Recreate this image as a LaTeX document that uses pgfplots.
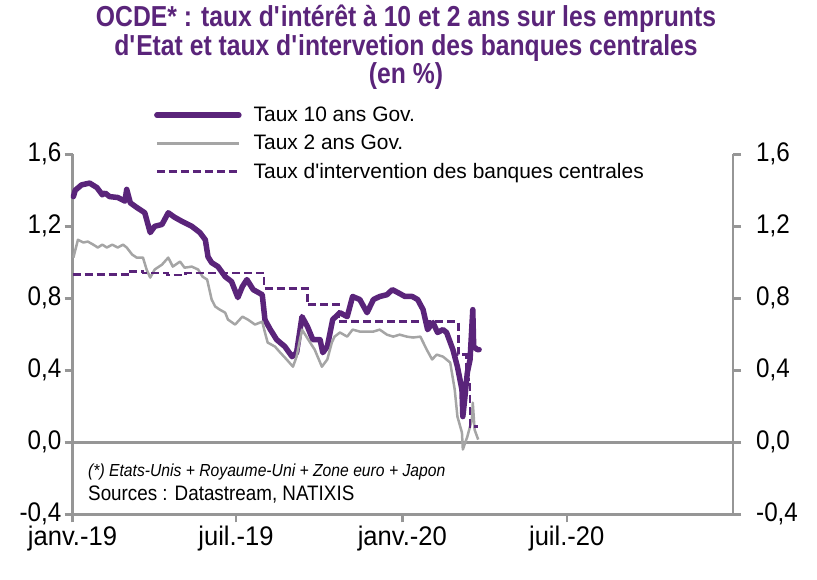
\documentclass[border=0pt]{standalone}
\usepackage{pgfplots}
\pgfplotsset{compat=1.18}
\usepackage{fontspec}
\setmainfont{Liberation Sans}
\newfontfamily\narrowfont[FakeStretch=0.9]{Liberation Sans}
\newfontfamily\xlabfont[FakeStretch=0.95]{Liberation Sans}
\newfontfamily\titlefont[FakeStretch=0.855]{Liberation Sans}
\definecolor{ocdepurple}{RGB}{90,36,122}
\definecolor{axgray}{RGB}{150,150,150}
\definecolor{lgray}{RGB}{165,165,165}
\begin{document}
\begin{tikzpicture}[x=1bp,y=1bp]
\node[anchor=base, text=ocdepurple, font=\titlefont\bfseries\fontsize{29}{29}\selectfont] at (406,553) {OCDE* : taux d\textquotesingle intérêt à 10 et 2 ans sur les emprunts};
\node[anchor=base, text=ocdepurple, font=\titlefont\bfseries\fontsize{29}{29}\selectfont] at (406,524) {d\textquotesingle Etat et taux d\textquotesingle intervetion des banques centrales};
\node[anchor=base, text=ocdepurple, font=\titlefont\bfseries\fontsize{29}{29}\selectfont] at (406,496) {(en \%)};
\begin{axis}[
  at={(72.5bp,65.7bp)}, anchor=south west,
  width=660.5bp, height=360bp, scale only axis,
  xmin=0, xmax=731, ymin=-0.4, ymax=1.6,
  axis x line*=bottom, axis y line*=left,
  axis line style={-, axgray, line width=2.5bp},
  tick align=outside, major tick length=8bp,
  tick style={axgray, line width=2.5bp},
  xtick={0,181,365,547},
  xticklabels={janv.-19,juil.-19,janv.-20,juil.-20},
  ytick={-0.4,0,0.4,0.8,1.2,1.6},
  yticklabels={{-0,4},{0,0},{0,4},{0,8},{1,2},{1,6}},
  yticklabel style={font=\narrowfont\fontsize{27}{27}\selectfont, text=black, inner sep=1bp, xshift=-2bp},
  xticklabel style={font=\xlabfont\fontsize{27}{27}\selectfont, text=black, inner sep=1bp, yshift=-3bp},
  /pgf/number format/assume math mode=true,
  legend style={at={(axis description cs:0.1233,1.137)}, anchor=north west,
    draw=none, fill=none, inner sep=0pt, row sep=8bp, column sep=10bp,
    font=\fontsize{21}{21}\selectfont,
    nodes={inner sep=2bp}, cells={anchor=west}},
  legend image code/.code={\draw[#1] (0bp,0bp) -- (82bp,0bp);},
  clip=false,
]
\addplot[axgray, line width=2.5bp, forget plot] coordinates {(0,0) (731,0)};
\addplot[ocdepurple, line width=5.5bp, line join=round, line cap=round] coordinates {
(1,1.365)(3,1.40)(10,1.43)(19,1.44)(27,1.415)(33,1.375)(36,1.385)(41,1.365)(50,1.36)(58,1.34)(60,1.405)(64,1.33)(71,1.305)(80,1.275)(86,1.165)(91,1.20)(99,1.21)(106,1.275)(113,1.25)(122,1.225)(132,1.20)(141,1.165)(147,1.125)(150,1.03)(154,0.998)(161,0.976)(169,0.92)(176,0.893)(183,0.804)(188,0.865)(193,0.904)(200,0.848)(210,0.82)(213,0.68)(219,0.626)(226,0.57)(235,0.532)(243,0.476)(248,0.498)(254,0.698)(260,0.643)(266,0.57)(274,0.57)(277,0.498)(282,0.532)(288,0.682)(296,0.72)(304,0.698)(310,0.81)(318,0.793)(326,0.72)(333,0.793)(340,0.81)(348,0.82)(354,0.848)(360,0.832)(368,0.81)(376,0.81)(382,0.793)(388,0.737)(393,0.626)(399,0.665)(404,0.61)(410,0.626)(414,0.61)(421,0.515)(426,0.42)(431,0.293)(432,0.143)(434,0.237)(437,0.388)(440,0.46)(443,0.737)(444,0.532)(448,0.515)(450,0.515)
};
\addlegendentry{Taux 10 ans Gov.}
\addplot[lgray, line width=2.5bp, line join=round] coordinates {
(1,1.026)(6,1.125)(12,1.11)(17,1.115)(23,1.098)(28,1.082)(33,1.098)(38,1.082)(44,1.098)(50,1.082)(56,1.098)(60,1.082)(66,1.043)(71,1.026)(78,1.026)(82,0.96)(86,0.915)(91,0.96)(99,0.987)(106,1.026)(111,0.976)(119,1.004)(124,0.97)(132,0.976)(139,0.96)(144,0.92)(149,0.904)(154,0.793)(158,0.754)(163,0.737)(169,0.72)(172,0.682)(180,0.654)(188,0.698)(194,0.682)(202,0.654)(210,0.67)(213,0.61)(216,0.554)(224,0.532)(230,0.498)(237,0.46)(244,0.42)(248,0.476)(254,0.626)(261,0.57)(268,0.515)(276,0.42)(282,0.46)(287,0.554)(290,0.587)(296,0.61)(304,0.587)(310,0.626)(318,0.615)(326,0.615)(333,0.615)(340,0.626)(348,0.598)(355,0.587)(362,0.598)(370,0.587)(377,0.582)(385,0.587)(392,0.515)(398,0.46)(403,0.487)(410,0.476)(418,0.443)(423,0.293)(426,0.143)(431,0.054)(432,-0.04)(437,0.032)(442,0.126)(443,0.22)(445,0.07)(449,0.015)
};
\addlegendentry{Taux 2 ans Gov.}
\addplot[ocdepurple, line width=2.5bp, dash pattern=on 8bp off 4bp] coordinates {
(0,0.932)(62,0.932)(62,0.95)(78,0.95)(78,0.94)(105,0.94)(105,0.93)(125,0.93)(125,0.94)(212,0.94)(212,0.855)(260,0.855)(260,0.765)(295,0.765)(295,0.67)(427,0.67)(427,0.487)(436,0.487)(436,0.35)(440,0.35)(440,0.087)(449,0.087)
};
\addlegendentry{Taux d\textquotesingle intervention des banques centrales}
\end{axis}
\begin{axis}[
  at={(72.5bp,65.7bp)}, anchor=south west,
  width=660.5bp, height=360bp, scale only axis,
  xmin=0, xmax=731, ymin=-0.4, ymax=1.6,
  axis x line=none, axis y line*=right,
  axis line style={-, axgray, line width=2.5bp},
  tick align=outside, major tick length=8bp,
  tick style={axgray, line width=2.5bp},
  ytick={-0.4,0,0.4,0.8,1.2,1.6},
  yticklabels={{-0,4},{0,0},{0,4},{0,8},{1,2},{1,6}},
  yticklabel style={font=\narrowfont\fontsize{27}{27}\selectfont, text=black, inner sep=1bp, xshift=14bp},
]
\end{axis}
\node[anchor=base west, inner sep=0pt, font=\narrowfont\itshape\fontsize{17.5}{17.5}\selectfont] at (88,103) {(*) Etats-Unis + Royaume-Uni + Zone euro + Japon};
\node[anchor=base west, inner sep=0pt, font=\narrowfont\fontsize{21}{21}\selectfont] at (88,79) {Sources : Datastream, NATIXIS};
\pgfresetboundingbox
\path[use as bounding box] (0,0) rectangle (817,580);
\end{tikzpicture}
\end{document}
